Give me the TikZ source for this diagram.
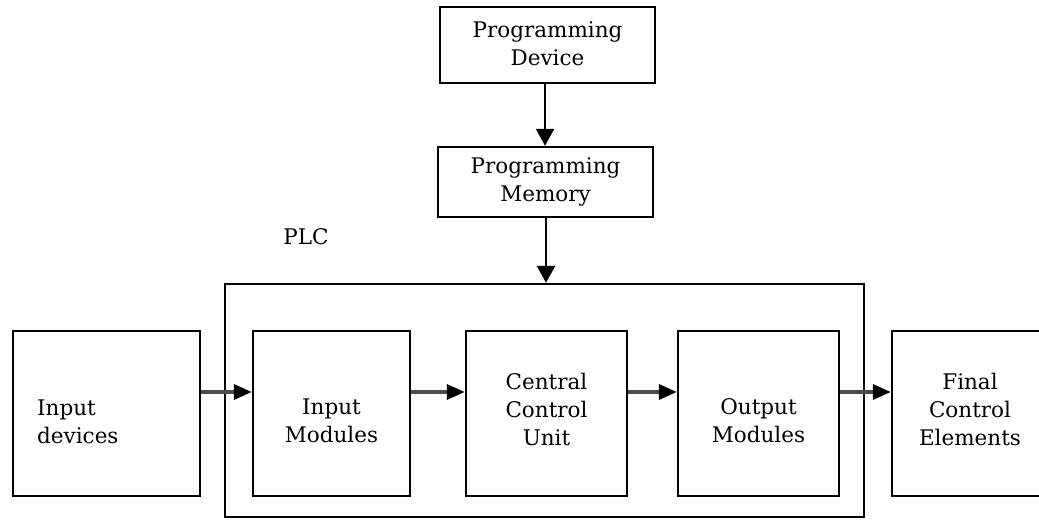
\documentclass[tikz,border=0pt]{standalone}
\usepackage{fontspec}
\setmainfont{DejaVu Serif}
\usetikzlibrary{arrows.meta}
\begin{document}
\begin{tikzpicture}[x=1pt,y=-1pt,
  box/.style={draw=black,line width=2.4pt,inner sep=0pt},
  txt/.style={font=\fontsize{21.5}{28}\selectfont,align=center,inner sep=0pt},
  harrow/.style={draw=black!70,line width=3.4pt,-{Triangle[length=18pt,width=15pt,color=black]}},
  varrow/.style={draw=black,line width=2.4pt,-{Triangle[length=17pt,width=18pt]}}]
\useasboundingbox (0,0) rectangle (1039,524);
\clip (0,0) rectangle (1039,524);
\fill[white] (0,0) rectangle (1039,524);
% top boxes
\node[box,minimum width=215pt,minimum height=76pt] (dev) at (547.5,45) {};
\node[txt] (devt) at (547.5,44) {Programming\\Device};
\node[box,minimum width=215pt,minimum height=70pt] (mem) at (545.5,182) {};
\node[txt] (memt) at (545.5,182) {Programming\\Memory};
% PLC
\node[txt] (plct) at (306,237) {PLC};
\node[box,minimum width=639pt,minimum height=233pt] (plc) at (544.5,400.5) {};
% row boxes
\node[box,minimum width=187pt,minimum height=165pt] (indev) at (106.5,413.5) {};
\node[txt,anchor=west,align=left] (indevt) at (37,422) {Input\\devices};
\node[box,minimum width=157pt,minimum height=165pt] (inmod) at (331.5,413.5) {};
\node[txt] (inmodt) at (331.5,421) {Input\\Modules};
\node[box,minimum width=161pt,minimum height=165pt] (ccu) at (546.5,413.5) {};
\node[txt] (ccut) at (546.5,409) {Central\\Control\\Unit};
\node[box,minimum width=161pt,minimum height=165pt] (outmod) at (758.5,413.5) {};
\node[txt] (outmodt) at (758.5,421) {Output\\Modules};
\node[box,minimum width=156pt,minimum height=165pt] (fin) at (970,413.5) {};
\node[txt] (fint) at (970,409) {Final\\Control\\Elements};
% connectors
\draw[varrow] (dev.south -| 545,0) -- (mem.north -| 545,0);
\draw[varrow] (mem.south -| 546,0) -- (plc.north -| 546,0);
\draw[harrow] (indev.east |- 0,392) -- (inmod.west |- 0,392);
\draw[harrow] (inmod.east |- 0,392) -- (ccu.west |- 0,392);
\draw[harrow] (ccu.east |- 0,392) -- (outmod.west |- 0,392);
\draw[harrow] (outmod.east |- 0,392) -- (fin.west |- 0,392);
\end{tikzpicture}
\end{document}
